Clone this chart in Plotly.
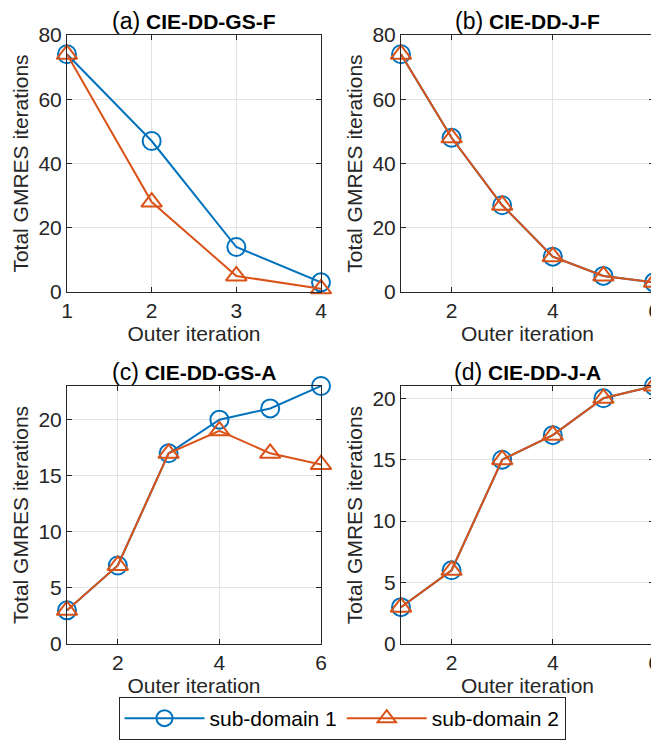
import plotly.graph_objects as go

# Data
x_a = [1, 2, 3, 4]
a_sub1 = [74, 47, 14, 3]
a_sub2 = [74, 28, 5, 1]

x_b = [1, 2, 3, 4, 5, 6]
b_sub1 = [74, 48, 27, 11, 5, 3]
b_sub2 = [74, 48, 27, 11, 5, 3]

x_c = [1, 2, 3, 4, 5, 6]
c_sub1 = [3, 7, 17, 20, 21, 23]
c_sub2 = [3, 7, 17, 19, 17, 16]

x_d = [1, 2, 3, 4, 5, 6]
d_sub1 = [3, 6, 15, 17, 20, 21]
d_sub2 = [3, 6, 15, 17, 20, 21]

series_names = ["sub-domain 1", "sub-domain 2"]
panel_letters = ["(a)", "(b)", "(c)", "(d)"]
panel_names = ["CIE-DD-GS-F", "CIE-DD-J-F", "CIE-DD-GS-A", "CIE-DD-J-A"]

BLUE = "#0072BD"
ORANGE = "#D95319"
AXC = "#262626"
FONT = "Liberation Sans, Arial, Helvetica, sans-serif"
FS = 21

# the page body keeps its default 8px margin; size the figure so the whole
# page is exactly 659x748 and place everything in window pixel coordinates
OX, OY = 8, 8
W, H = 659 - OX, 748 - 2 * OY
fig = go.Figure()

panels = [
    (x_a, a_sub1, a_sub2, "x", "y"),
    (x_b, b_sub1, b_sub2, "x2", "y2"),
    (x_c, c_sub1, c_sub2, "x3", "y3"),
    (x_d, d_sub1, d_sub2, "x4", "y4"),
]
for i, (xs, s1, s2, xa, ya) in enumerate(panels):
    fig.add_trace(go.Scatter(
        x=xs, y=s1, mode="lines+markers", name=series_names[0],
        xaxis=xa, yaxis=ya, cliponaxis=False, showlegend=(i == 0),
        line=dict(color=BLUE, width=2),
        marker=dict(symbol="circle-open", size=18, color=BLUE, line=dict(width=2, color=BLUE)),
    ))
    fig.add_trace(go.Scatter(
        x=xs, y=s2, mode="lines+markers", name=series_names[1],
        xaxis=xa, yaxis=ya, cliponaxis=False, showlegend=(i == 0),
        line=dict(color=ORANGE, width=2),
        marker=dict(symbol="triangle-up-open", size=18, color=ORANGE, line=dict(width=2, color=ORANGE)),
    ))

def px_x(v):
    return (v - OX) / W

def px_y(v):
    return 1 - (v - OY) / H

# Domains (paper coords), from window pixel positions
xl = [px_x(67), px_x(321)]
xr = [px_x(401), px_x(654)]
yt = [px_y(292), px_y(35)]
yb = [px_y(644), px_y(386)]

def common(domain, rng, tickvals, anchor):
    return dict(domain=domain, range=rng, tickvals=tickvals, anchor=anchor,
                automargin=False, ticklabeloverflow="allow",
                showline=True, linecolor=AXC, linewidth=1, mirror="ticks",
                ticks="inside", ticklen=5, tickcolor=AXC, showgrid=True,
                gridcolor="#e3e3e3", gridwidth=1, zeroline=False,
                tickfont=dict(family=FONT, size=FS, color=AXC))

def xaxis(domain, rng, tickvals, anchor):
    d = common(domain, rng, tickvals, anchor)
    d["title"] = dict(text="Outer iteration", standoff=0,
                      font=dict(family=FONT, size=FS, color=AXC))
    return d

def yaxis(domain, rng, tickvals, anchor):
    d = common(domain, rng, tickvals, anchor)
    d["title"] = dict(text="Total GMRES iterations", standoff=4,
                      font=dict(family=FONT, size=FS, color=AXC))
    return d

fig.update_layout(
    width=W, height=H,
    margin=dict(l=0, r=0, t=0, b=0),
    paper_bgcolor="white", plot_bgcolor="white",
    font=dict(family=FONT, color=AXC),
    xaxis=xaxis(xl, [1, 4], [1, 2, 3, 4], "y"),
    yaxis=yaxis(yt, [0, 80], [0, 20, 40, 60, 80], "x"),
    xaxis2=xaxis(xr, [1, 6], [2, 4, 6], "y2"),
    yaxis2=yaxis(yt, [0, 80], [0, 20, 40, 60, 80], "x2"),
    xaxis3=xaxis(xl, [1, 6], [2, 4, 6], "y3"),
    yaxis3=yaxis(yb, [0, 23], [0, 5, 10, 15, 20], "x3"),
    xaxis4=xaxis(xr, [1, 6], [2, 4, 6], "y4"),
    yaxis4=yaxis(yb, [0, 21], [0, 5, 10, 15, 20], "x4"),
    legend=dict(orientation="h", x=px_x(342), xanchor="center", y=0, yanchor="bottom",
                bordercolor=AXC, borderwidth=1, bgcolor="white", itemwidth=80,
                font=dict(family=FONT, size=FS, color="black")),
    showlegend=True,
)

centers = [(sum(xl) / 2, yt[1]), (sum(xr) / 2, yt[1]), (sum(xl) / 2, yb[1]), (sum(xr) / 2, yb[1])]
for let, nm, (cx, cy) in zip(panel_letters, panel_names, centers):
    fig.add_annotation(text=f"<span style='font-size:23px'>{let}</span> <b>{nm}</b>",
                       x=cx, y=cy, xref="paper", yref="paper",
                       xanchor="center", yanchor="bottom", yshift=0, borderpad=0,
                       showarrow=False,
                       font=dict(family=FONT, size=21, color="black"))

fig.write_html("out.html", config={"displayModeBar": False})
